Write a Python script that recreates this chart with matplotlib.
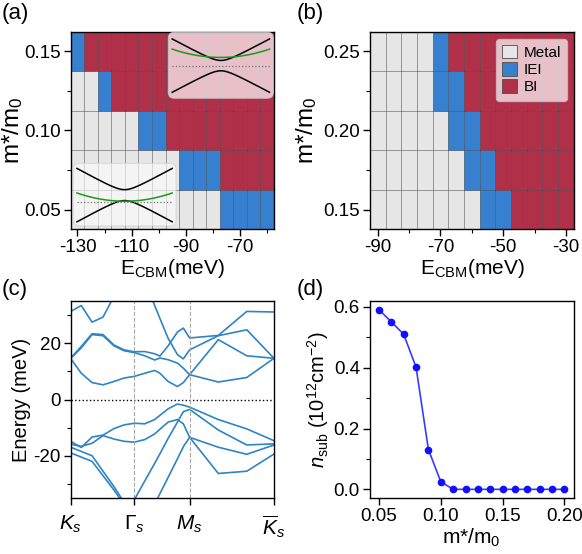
import numpy as np
import matplotlib
matplotlib.use("Agg")
import matplotlib.pyplot as plt
from matplotlib.colors import ListedColormap
from matplotlib.patches import FancyBboxPatch, Patch
from matplotlib.ticker import MultipleLocator, FormatStrFormatter

plt.rcParams['font.family'] = ['Liberation Sans', 'DejaVu Sans']
plt.rcParams['mathtext.fontset'] = 'custom'
plt.rcParams['mathtext.rm'] = 'Liberation Sans'
plt.rcParams['mathtext.it'] = 'Liberation Sans:italic'
plt.rcParams['axes.unicode_minus'] = False
plt.rcParams['axes.linewidth'] = 1.0

# ---- (a) phase diagram: 0 = Metal, 1 = IEI, 2 = BI
ecbm_a = [-130, -125, -120, -115, -110, -105, -100, -95, -90, -85, -80, -75, -70, -65, -60]
mass_a = [0.05, 0.075, 0.10, 0.125, 0.15]
phase_a = [
    [0, 0, 0, 0, 0, 0, 0, 0, 0, 0, 0, 1, 1, 1, 1],
    [0, 0, 0, 0, 0, 0, 0, 0, 1, 1, 1, 2, 2, 2, 2],
    [0, 0, 0, 0, 0, 1, 1, 2, 2, 2, 2, 2, 2, 2, 2],
    [0, 0, 1, 2, 2, 2, 2, 2, 2, 2, 2, 2, 2, 2, 2],
    [1, 2, 2, 2, 2, 2, 2, 2, 2, 2, 2, 2, 2, 2, 2],
]

# ---- (b) phase diagram
ecbm_b = [-90, -85, -80, -75, -70, -65, -60, -55, -50, -45, -40, -35, -30]
mass_b = [0.15, 0.175, 0.20, 0.225, 0.25]
phase_b = [
    [0, 0, 0, 0, 0, 0, 0, 1, 1, 2, 2, 2, 2],
    [0, 0, 0, 0, 0, 0, 1, 1, 2, 2, 2, 2, 2],
    [0, 0, 0, 0, 0, 1, 1, 2, 2, 2, 2, 2, 2],
    [0, 0, 0, 0, 1, 1, 2, 2, 2, 2, 2, 2, 2],
    [0, 0, 0, 0, 1, 2, 2, 2, 2, 2, 2, 2, 2],
]
phase_names = ["Metal", "IEI", "BI"]
phase_colors = ["#e6e6e6", "#3680cf", "#b0304a"]

# ---- (c) band structure along K - Gamma - M - Kbar
k_path = [0.0, 0.052, 0.105, 0.159, 0.213, 0.262, 0.313, 0.364, 0.413, 0.439,
          0.479, 0.525, 0.554, 0.585, 0.726, 0.866, 1.0]
k_ticks = [0.0, 0.313, 0.585, 1.0]
k_labels = ["$K_s$", r"$\mathit{\Gamma}_s$", "$M_s$", r"$\overline{K}_s$"]
bands = [
    [14.5, 9.3, 6.0, 5.2, 6.4, 7.6, 8.2, 9.3, 10.3, 9.3, 6.4, 4.6, 6.0, 8.8, 6.2, 7.8, 14.6],
    [14.6, 18.3, 23.0, 22.6, 19.0, 17.3, 16.6, 15.5, 14.0, 14.7, 14.1, 12.9, 11.1, 8.8, 21.2, 15.5, 14.6],
    [14.7, 18.8, 23.3, 23.0, 19.3, 17.6, 16.9, 17.0, 16.2, 15.4, 19.0, 23.9, 25.3, 21.8, 22.7, 31.2, 31.0],
    [31.2, 33.3, 27.4, 29.2, 36.6, 45.0, 50.5, 42.0, 33.3, 28.7, 21.7, 15.9, 14.4, 17.6, 22.6, 24.7, 14.6],
    [-14.8, -17.0, -13.3, -12.6, -10.3, -9.0, -8.4, -8.6, -7.1, -5.6, -3.3, -1.6, -2.0, -2.7, -7.1, -10.4, -14.6],
    [-15.8, -16.6, -15.5, -12.8, -14.0, -14.8, -15.1, -14.2, -12.2, -10.5, -8.0, -7.1, -8.6, -13.4, -16.9, -19.4, -16.1],
    [-16.9, -18.4, -19.9, -25.4, -30.9, -36.3, -35.5, -28.9, -22.6, -19.2, -13.8, -8.0, -4.3, -3.5, -10.8, -16.1, -15.7],
    [-18.9, -20.4, -21.9, -27.0, -32.1, -37.1, -42.2, -44.2, -37.1, -33.3, -27.6, -21.0, -16.7, -13.4, -26.2, -25.4, -19.3],
]

# ---- (d) n_sub vs effective mass
mass_d = [0.05, 0.06, 0.07, 0.08, 0.09, 0.10, 0.11, 0.12, 0.13, 0.14, 0.15,
          0.16, 0.17, 0.18, 0.19, 0.20]
nsub = [0.591, 0.551, 0.510, 0.402, 0.131, 0.025, 0.0, 0.0, 0.0, 0.0, 0.0,
        0.0, 0.0, 0.0, 0.0, 0.0]

TICK = 13.5
LAB = 15

fig = plt.figure(figsize=(5.82, 5.54), dpi=100)
ax_a = fig.add_axes([0.1215, 0.5861, 0.3493, 0.3567])
ax_b = fig.add_axes([0.6357, 0.5861, 0.3500, 0.3567])
ax_c = fig.add_axes([0.1215, 0.1005, 0.3493, 0.3567])
ax_d = fig.add_axes([0.6352, 0.1005, 0.3505, 0.3567])

cmap = ListedColormap(phase_colors)


def phase_panel(ax, ex, ms, ph, xt, ylab_x):
    ax.pcolormesh(ex, ms, np.array(ph), cmap=cmap, vmin=-0.5, vmax=2.5,
                  shading='nearest', edgecolors=(0.15, 0.15, 0.15, 0.45),
                  linewidth=0.5, antialiased=True)
    ax.set_xticks(xt)
    ax.xaxis.set_minor_locator(MultipleLocator(10))
    ax.yaxis.set_major_locator(MultipleLocator(0.05))
    ax.yaxis.set_minor_locator(MultipleLocator(0.025))
    ax.yaxis.set_major_formatter(FormatStrFormatter('%.2f'))
    ax.tick_params(labelsize=TICK, width=1.0, length=5, pad=2)
    ax.tick_params(which='minor', width=0.8, length=3)
    ax.set_xlabel(r"E$_{\rm CBM}$(meV)", fontsize=LAB, labelpad=1)
    ax.set_ylabel(r"m*/m$_0$", fontsize=17.5)
    ax.yaxis.set_label_coords(ylab_x, 0.5)


phase_panel(ax_a, ecbm_a, mass_a, phase_a, [-130, -110, -90, -70], -0.225)
phase_panel(ax_b, ecbm_b, mass_b, phase_b, [-90, -70, -50, -30], -0.25)


# schematic dispersion insets in (a)
def inset(ax, bounds, face_alpha, gap, edge, green_min, green_rise, ef, ylim):
    box = FancyBboxPatch((bounds[0], bounds[1]), bounds[2], bounds[3],
                         boxstyle="round,pad=0,rounding_size=0.03",
                         transform=ax.transAxes, facecolor='white',
                         alpha=face_alpha, edgecolor='#cccccc', lw=0.8, zorder=3)
    ax.add_patch(box)
    ia = ax.inset_axes(bounds, zorder=4)
    ia.set_facecolor('none')
    ia.axis('off')
    k = np.linspace(-1, 1, 200)
    v = np.sqrt(edge ** 2 - gap ** 2)
    e = np.sqrt(gap ** 2 + (v * k) ** 2)
    ia.plot(k, e, color='k', lw=1.1)
    ia.plot(k, -e, color='k', lw=1.1)
    ia.plot(k, green_min + green_rise * k ** 2, color='#1a9a1a', lw=1.1)
    ia.plot([-1, 1], [ef, ef], color='0.45', ls=':', lw=0.9)
    ia.set_xlim(-1.08, 1.08)
    ia.set_ylim(*ylim)


inset(ax_a, [0.48, 0.663, 0.517, 0.334], 0.7, 1.55, 8.0, 2.45, 2.5, 0.0, (-9.8, 10.0))
inset(ax_a, [0.012, 0.017, 0.506, 0.317], 0.6, 1.65, 8.1, -1.85, 2.5, -2.05, (-9.35, 9.65))

handles = [Patch(facecolor=c, edgecolor='0.3', lw=0.6) for c in phase_colors]
leg = ax_b.legend(handles, phase_names, loc='upper right', fontsize=11,
                  handlelength=1.0, handleheight=1.0, handletextpad=0.4,
                  labelspacing=0.15, borderpad=0.4, borderaxespad=0.45,
                  framealpha=0.7, fancybox=True)
leg.get_frame().set_edgecolor('#cccccc')

# (c) bands
for b in bands:
    ax_c.plot(k_path, b, color='#2f84c4', lw=1.2)
ax_c.axhline(0, color='k', ls=':', lw=1.0)
for kt in k_ticks[1:3]:
    ax_c.axvline(kt, color='0.65', ls='--', lw=0.8)
ax_c.set_xlim(0, 1)
ax_c.set_ylim(-35, 35)
ax_c.set_xticks(k_ticks)
ax_c.set_xticklabels(k_labels)
ax_c.yaxis.set_major_locator(MultipleLocator(20))
ax_c.yaxis.set_minor_locator(MultipleLocator(10))
ax_c.tick_params(labelsize=TICK, width=1.0, length=5, pad=2)
ax_c.tick_params(axis='x', labelsize=LAB, pad=6)
ax_c.tick_params(which='minor', width=0.8, length=3)
ax_c.set_ylabel("Energy (meV)", fontsize=14.5, labelpad=2)

# (d)
ax_d.plot(mass_d, nsub, '-', color='#3a3aff', lw=1.2)
ax_d.plot(mass_d, nsub, 'o', color='#1010ff', ms=4.5)
ax_d.set_xticks([0.05, 0.10, 0.15, 0.20])
ax_d.xaxis.set_major_formatter(FormatStrFormatter('%.2f'))
ax_d.yaxis.set_major_locator(MultipleLocator(0.2))
ax_d.yaxis.set_minor_locator(MultipleLocator(0.1))
ax_d.yaxis.set_major_formatter(FormatStrFormatter('%.1f'))
ax_d.tick_params(labelsize=TICK, width=1.0, length=5, pad=2)
ax_d.tick_params(which='minor', width=0.8, length=3)
ax_d.set_xlabel(r"m*/m$_0$", fontsize=LAB, labelpad=1)
ax_d.set_ylabel(r"$n_{\rm sub}$ (10$^{12}$cm$^{-2}$)", fontsize=14.5, labelpad=2)

for x, y, s in [(0.003, 0.995, "(a)"), (0.510, 0.995, "(b)"),
                (0.003, 0.497, "(c)"), (0.510, 0.497, "(d)")]:
    fig.text(x, y, s, fontsize=16, va='top', ha='left')

fig.savefig("out.png", dpi=100)
